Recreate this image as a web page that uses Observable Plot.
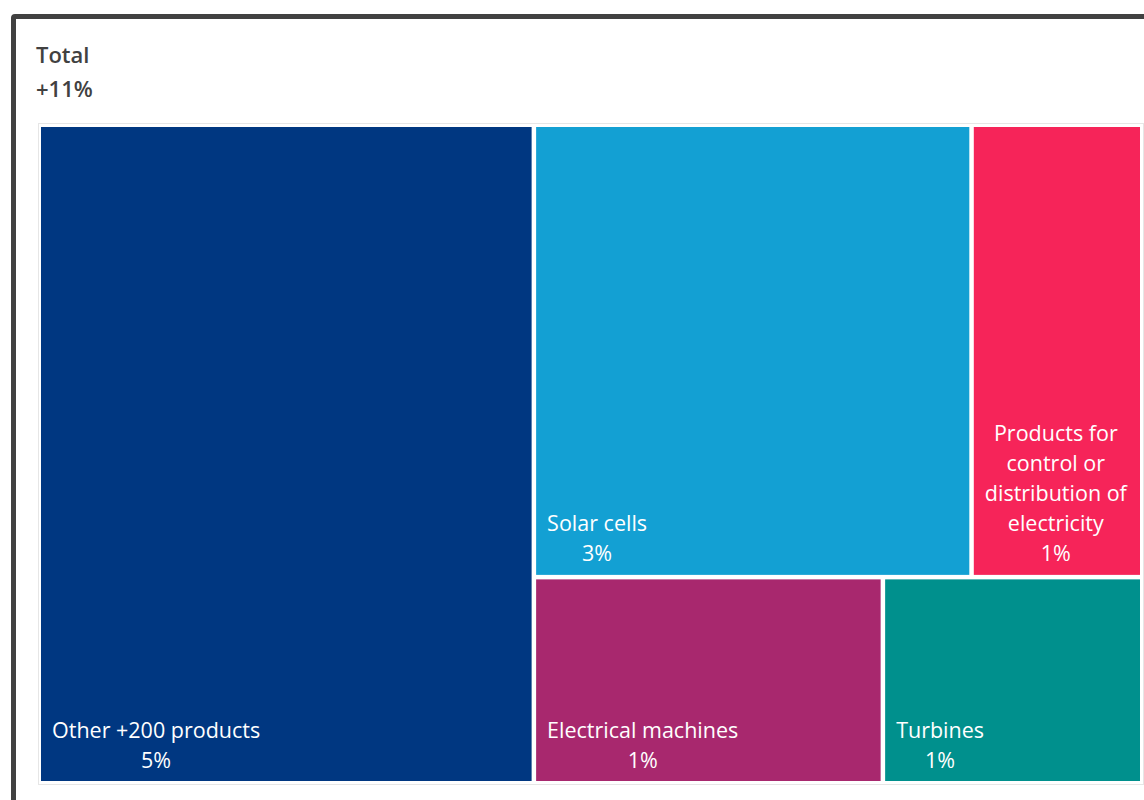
<!DOCTYPE html>
<html>
<head>
<meta charset="utf-8">
<script src="https://cdn.jsdelivr.net/npm/d3@7"></script>
<script src="https://cdn.jsdelivr.net/npm/@observablehq/plot@0.6"></script>
<style>
  html, body { margin: 0; padding: 0; background: #fff; overflow: hidden; width: 1144px; height: 800px; }
  #frame { position: absolute; left: 11px; top: 14px; width: 1300px; height: 1000px; border: 5px solid #414141; border-radius: 4px; box-sizing: border-box; }
  #title { position: absolute; left: 36px; top: 37px; font-family: "Open Sans", sans-serif; font-weight: 600; font-size: 22px; line-height: 34px; color: #414141; }
  #chart { position: absolute; left: 36px; top: 121px; }
</style>
</head>
<body>
<div id="frame"></div>
<div id="title"><div>Total</div><div>+11%</div></div>
<div id="chart"></div>
<script>
// Data (share of total +11% growth, percentage points)
const categories = ["Other +200 products", "Solar cells", "Products for control or distribution of electricity", "Electrical machines", "Turbines"];
const values = [4.94, 3.00, 1.17, 1.09, 0.81];
const labelLines = [
  ["Other +200 products"],
  ["Solar cells"],
  ["Products for", "control or", "distribution of", "electricity"],
  ["Electrical machines"],
  ["Turbines"]
];
const colors = ["#003781", "#13A0D3", "#F62459", "#A8286E", "#00908D"];

const W = 1108, H = 668;
const FONT_SIZE = 21.5;
const FONT_FAMILY = '"Open Sans", sans-serif';

const root = d3.hierarchy({children: categories.map((c, i) => ({name: c, value: values[i], i}))})
  .sum(d => d.value || 0)
  .sort((a, b) => b.value - a.value);
d3.treemap().tile(d3.treemapSquarify.ratio(1.4)).size([1099, 654]).paddingInner(4.5).round(false)(root);

const ctx = document.createElement("canvas").getContext("2d");
ctx.font = `${FONT_SIZE}px ${FONT_FAMILY}`;

const ox = 5, oy = 6;
const tiles = root.leaves().map(n => {
  const i = n.data.i;
  const lines = labelLines[i].concat([Math.round(values[i]) + "%"]);
  const bw = Math.max(...lines.map(l => ctx.measureText(l).width));
  return {
    name: n.data.name, color: colors[i],
    x1: n.x0 + ox, x2: n.x1 + ox, y1: n.y0 + oy, y2: n.y1 + oy,
    text: lines.join("\n"),
    tx: n.x0 + ox + 10.5 + bw / 2,
    ty: n.y1 + oy - 14
  };
});

const frame = [{x1: 2.5, x2: W - 0.5, y1: 2.5, y2: H - 4.5}];

const plot = Plot.plot({
  width: W, height: H,
  margin: 0,
  x: {domain: [0, W], range: [0, W], axis: null},
  y: {domain: [0, H], range: [0, H], axis: null},
  style: {background: "transparent", fontFamily: FONT_FAMILY},
  marks: [
    Plot.rect(frame, {x1: "x1", x2: "x2", y1: "y1", y2: "y2", fill: "none", stroke: "#e6e6e6", strokeWidth: 1}),
    Plot.rect(tiles, {x1: "x1", x2: "x2", y1: "y1", y2: "y2", fill: d => d.color, inset: 0}),
    Plot.text(tiles, {x: "tx", y: "ty", text: "text", fill: "white", fontSize: FONT_SIZE, lineHeight: 30 / FONT_SIZE, textAnchor: "middle", frameAnchor: "bottom", lineAnchor: "bottom"})
  ]
});
document.getElementById("chart").appendChild(plot);
</script>
</body>
</html>
